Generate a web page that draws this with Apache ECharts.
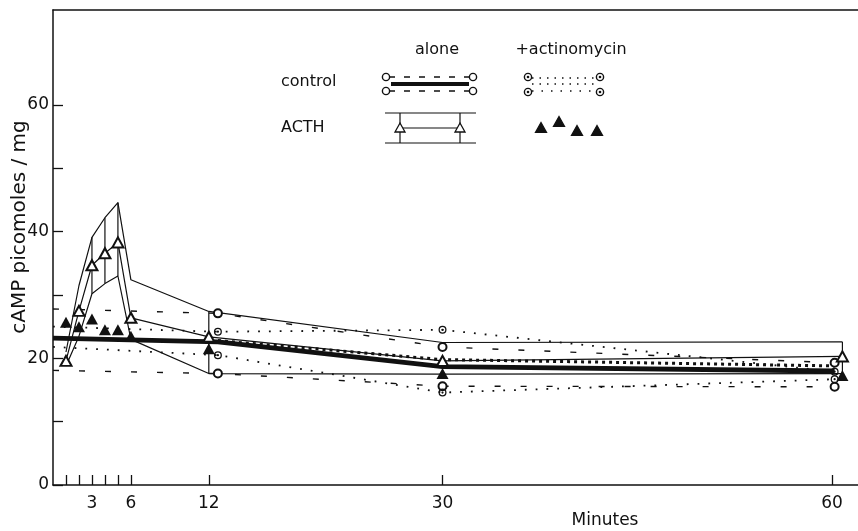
<!DOCTYPE html>
<html>
<head>
<meta charset="utf-8">
<script src="https://cdn.jsdelivr.net/npm/echarts@6/dist/echarts.min.js"></script>
<style>
  html, body { margin: 0; padding: 0; background: #fff; }
  #chart { width: 858px; height: 531px; }
</style>
</head>
<body>
<div id="chart"></div>
<script>
// ACTH time points (min) and values, cAMP picomoles / mg
const acthTimes = [1, 2, 3, 4, 5, 6, 12, 30, 60.8];
const acthMean = [19.6, 27.5, 34.7, 36.6, 38.3, 26.4, 23.4, 19.6, 20.3];
const acthUpper = [21, 31.5, 39.1, 42.2, 44.6, 32.4, 27.4, 22.5, 22.6];
const acthLower = [18.8, 23.5, 30.2, 31.8, 33, 23, 17.6, 17.5, 17.6];
const acthBarTimes = [3, 4, 5, 12, 60.8];
const acthActino = [25.7, 25.0, 26.2, 24.5, 24.5, 23.5, 21.5, 17.6, 17.3];

// control time points
const controlTimes = [0, 12.7, 30, 60.2];
const controlMean = [23.2, 22.6, 18.7, 18.0];
const controlUpper = [27.8, 27.1, 21.8, 19.3];
const controlLower = [18.1, 17.6, 15.6, 15.5];
const actinoMean = [null, 22.8, 19.8, 18.8];
const actinoUpper = [25, 24.2, 24.5, 17.9];
const actinoLower = [21.8, 20.5, 14.6, 16.7];

const xTicks = [1, 2, 3, 4, 5, 6, 12, 30, 60];
const xLabels = [3, 6, 12, 30, 60];
const yTicks = [0, 10, 20, 30, 40, 50, 60];
const yLabels = [0, 20, 40, 60];

const FONT = "DejaVu Sans";
const INK = "#111";
const dotCircle = "path://M0,-5A5,5 0 1,1 0,5A5,5 0 1,1 0,-5ZM0,-3.4A3.4,3.4 0 1,0 0,3.4A3.4,3.4 0 1,0 0,-3.4ZM0,-1.4A1.4,1.4 0 1,1 0,1.4A1.4,1.4 0 1,1 0,-1.4Z";

const pairs = (xs, ys) => xs.map((x, i) => (ys[i] == null ? [x, null] : [x, ys[i]]));
// no marker on the starting point at t = 0
const endMarked = (xs, ys) =>
  xs.map((x, i) => (i === 0 ? { value: [x, ys[i]], symbol: "none" } : [x, ys[i]]));

const barData = acthBarTimes.map(t => {
  const i = acthTimes.indexOf(t);
  return [t, acthUpper[i], acthLower[i]];
});

const chart = echarts.init(document.getElementById("chart"));

const thin = { color: INK, width: 1.2 };

// legend drawing helpers (pixel positions of the key only)
const hline = (x1, x2, y, w, dash) => ({
  type: "line",
  shape: { x1, y1: y, x2, y2: y },
  style: { stroke: INK, lineWidth: w, lineDash: dash || null }
});
const vline = (x, y1, y2) => ({
  type: "line",
  shape: { x1: x, y1, x2: x, y2 },
  style: { stroke: INK, lineWidth: 1.2 }
});
const ring = (cx, cy, dot) => {
  const items = [{
    type: "circle",
    shape: { cx, cy, r: 3.6 },
    style: { fill: "#fff", stroke: INK, lineWidth: 1.4 }
  }];
  if (dot) items.push({ type: "circle", shape: { cx, cy, r: 1.3 }, style: { fill: INK } });
  return items;
};
const tri = (cx, cy, s, filled) => ({
  type: "polygon",
  shape: { points: [[cx, cy - s], [cx + s, cy + s * 0.8], [cx - s, cy + s * 0.8]] },
  style: { fill: filled ? INK : "#fff", stroke: INK, lineWidth: 1.3 }
});
const label = (text, x, y, align) => ({
  type: "text",
  x, y,
  style: { text, fill: INK, font: "16px '" + FONT + "'", textAlign: align || "left", textVerticalAlign: "middle" }
});

const legend = [
  label("alone", 437, 50, "center"),
  label("+actinomycin", 571, 50, "center"),
  label("control", 281, 82),
  label("ACTH", 281, 128),
  hline(389, 470, 77, 1.3, [6, 9]),
  hline(389, 470, 91, 1.3, [6, 9]),
  hline(391, 469, 84, 4),
  ...ring(386, 77), ...ring(386, 91), ...ring(473, 77), ...ring(473, 91),
  hline(532, 597, 78, 1.6, [1.5, 6]),
  hline(532, 597, 84, 1.6, [1.5, 6]),
  hline(532, 597, 91, 1.6, [1.5, 8]),
  ...ring(528, 77, true), ...ring(528, 92, true), ...ring(600, 77, true), ...ring(600, 92, true),
  hline(385, 476, 113, 1.2),
  hline(385, 476, 143, 1.2),
  hline(400, 460, 128, 1.2),
  vline(400, 113, 143),
  vline(460, 113, 143),
  tri(400, 128, 5, false),
  tri(460, 128, 5, false),
  tri(541, 128, 5.5, true),
  tri(559, 122, 5.5, true),
  tri(577, 131, 5.5, true),
  tri(597, 131, 5.5, true)
];

chart.setOption({
  animation: false,
  backgroundColor: "#fff",
  textStyle: { fontFamily: FONT, color: INK },
  grid: { left: 53, right: 0, top: 10, bottom: 46 },
  xAxis: [
    {
      type: "value",
      min: 0,
      max: 62,
      axisLine: { lineStyle: { color: INK, width: 1.5 } },
      axisTick: { inside: true, length: 10, customValues: xTicks, lineStyle: { color: INK, width: 1.3 } },
      axisLabel: { customValues: xLabels, fontSize: 17, color: INK, margin: 10 },
      splitLine: { show: false }
    },
    {
      type: "value",
      position: "top",
      min: 0,
      max: 62,
      axisLine: { show: true, lineStyle: { color: INK, width: 1.5 } },
      axisTick: { show: false },
      axisLabel: { show: false },
      splitLine: { show: false }
    }
  ],
  yAxis: {
    type: "value",
    min: 0,
    max: 75,
    axisLine: { show: true, lineStyle: { color: INK, width: 1.5 } },
    axisTick: { show: true, inside: true, length: 10, customValues: yTicks, lineStyle: { color: INK, width: 1.3 } },
    axisLabel: { customValues: yLabels, fontSize: 17, color: INK, margin: 4 },
    splitLine: { show: false }
  },
  graphic: [
    {
      type: "text",
      x: 20,
      y: 227,
      rotation: Math.PI / 2,
      style: { text: "cAMP picomoles / mg", fill: INK, font: "20px '" + FONT + "'", textAlign: "center", textVerticalAlign: "middle" }
    },
    {
      type: "text",
      x: 605,
      y: 521,
      style: { text: "Minutes", fill: INK, font: "17px '" + FONT + "'", textAlign: "center", textVerticalAlign: "middle" }
    },
    ...legend
  ],
  series: [
    {
      name: "ACTH upper",
      type: "line",
      data: pairs(acthTimes, acthUpper),
      symbol: "none",
      lineStyle: thin,
      z: 3
    },
    {
      name: "ACTH lower",
      type: "line",
      data: pairs(acthTimes, acthLower),
      symbol: "none",
      lineStyle: thin,
      z: 3
    },
    {
      name: "ACTH SE",
      type: "custom",
      data: barData,
      renderItem: (params, api) => {
        const top = api.coord([api.value(0), api.value(1)]);
        const bot = api.coord([api.value(0), api.value(2)]);
        return {
          type: "line",
          shape: { x1: top[0], y1: top[1], x2: bot[0], y2: bot[1] },
          style: { stroke: INK, lineWidth: 1.2 }
        };
      },
      z: 3
    },
    {
      name: "control alone",
      type: "line",
      data: pairs(controlTimes, controlMean),
      symbol: "none",
      lineStyle: { color: INK, width: 4.8 },
      z: 2
    },
    {
      name: "control alone upper",
      type: "line",
      data: endMarked(controlTimes, controlUpper),
      symbol: "emptyCircle",
      symbolSize: 8,
      itemStyle: { color: INK, borderWidth: 1.4 },
      lineStyle: { color: INK, width: 1.4, type: [6, 20] },
      z: 4
    },
    {
      name: "control alone lower",
      type: "line",
      data: endMarked(controlTimes, controlLower),
      symbol: "emptyCircle",
      symbolSize: 8,
      itemStyle: { color: INK, borderWidth: 1.4 },
      lineStyle: { color: INK, width: 1.4, type: [6, 20] },
      z: 4
    },
    {
      name: "control actinomycin",
      type: "line",
      data: pairs(controlTimes, actinoMean),
      symbol: "none",
      lineStyle: { color: INK, width: 3, type: [3, 4] },
      z: 3
    },
    {
      name: "control actinomycin upper",
      type: "line",
      data: endMarked(controlTimes, actinoUpper),
      symbol: dotCircle,
      symbolSize: 8,
      itemStyle: { color: INK },
      lineStyle: { color: INK, width: 1.8, type: [1.8, 9] },
      z: 4
    },
    {
      name: "control actinomycin lower",
      type: "line",
      data: endMarked(controlTimes, actinoLower),
      symbol: dotCircle,
      symbolSize: 8,
      itemStyle: { color: INK },
      lineStyle: { color: INK, width: 1.8, type: [1.8, 9] },
      z: 4
    },
    {
      name: "ACTH alone",
      type: "line",
      data: pairs(acthTimes, acthMean),
      symbol: "emptyTriangle",
      symbolSize: [11, 10],
      itemStyle: { color: INK, borderWidth: 1.4 },
      lineStyle: thin,
      z: 5
    },
    {
      name: "ACTH + actinomycin",
      type: "scatter",
      data: pairs(acthTimes, acthActino),
      symbol: "triangle",
      symbolSize: [12, 11],
      itemStyle: { color: INK, opacity: 1 },
      z: 6
    }
  ]
});
</script>
</body>
</html>
